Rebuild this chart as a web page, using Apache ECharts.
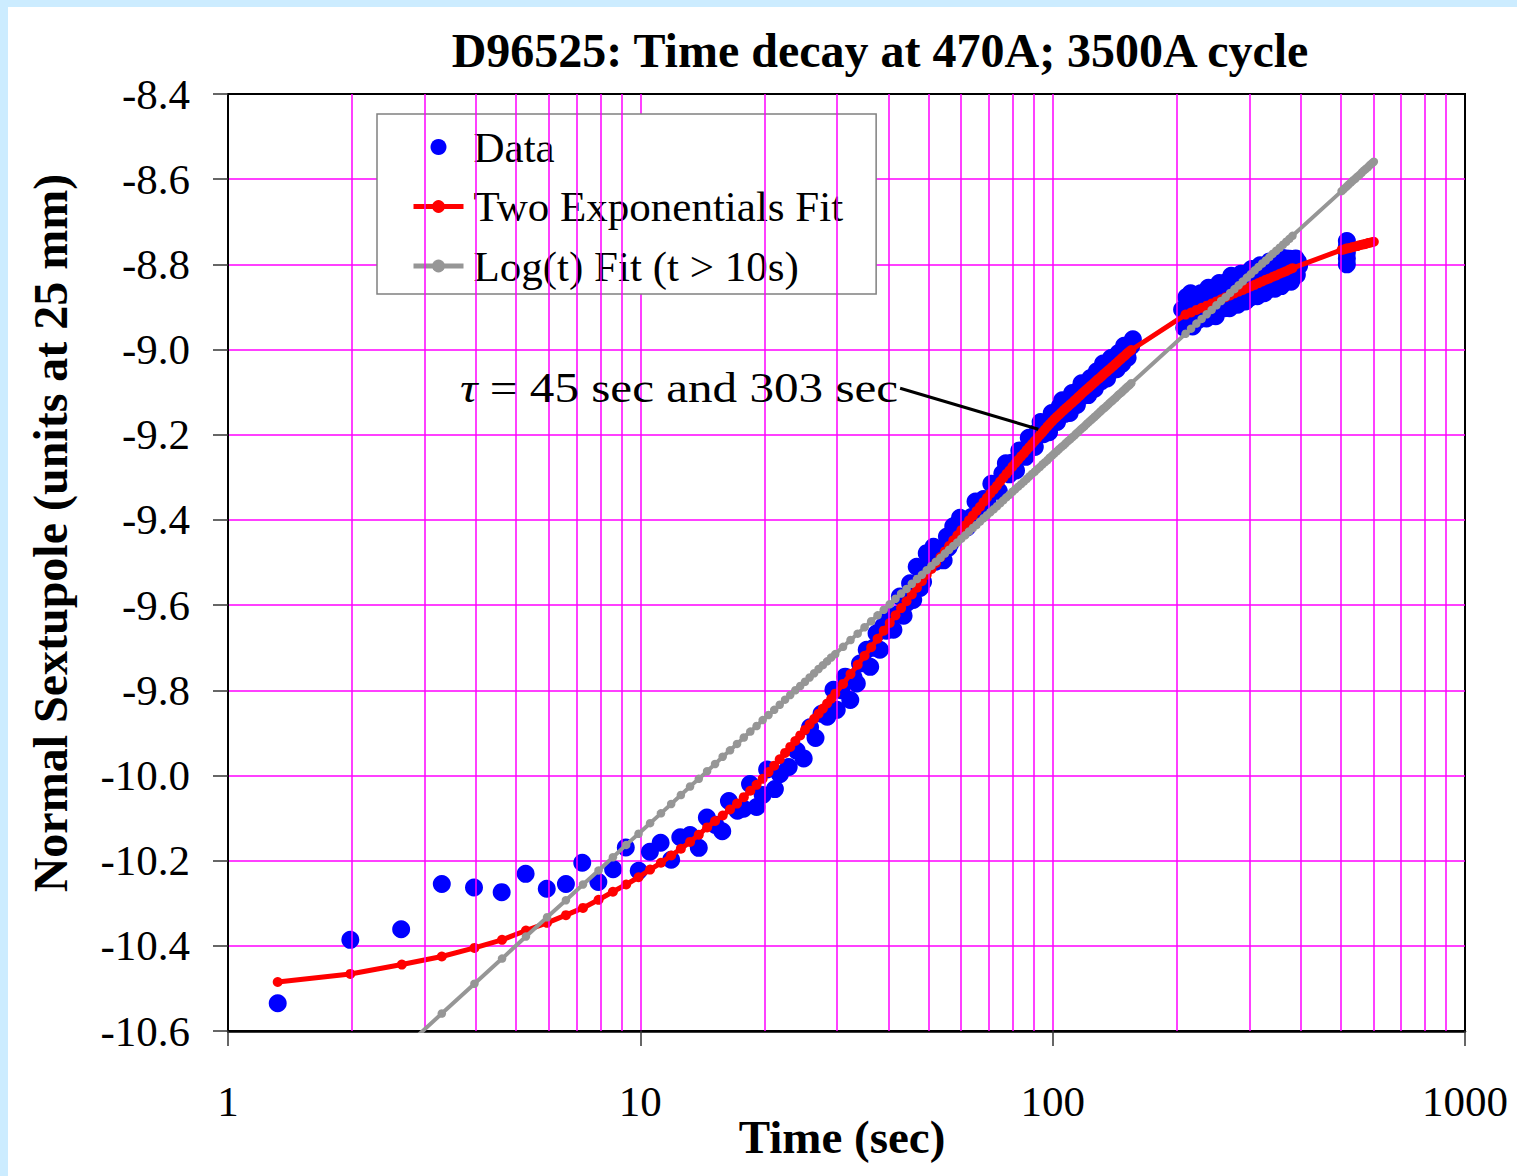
<!DOCTYPE html>
<html><head><meta charset="utf-8">
<script src="https://cdn.jsdelivr.net/npm/echarts@6/dist/echarts.min.js"></script>
<style>
html,body{margin:0;padding:0;background:#CCECFF;width:1517px;height:1176px;overflow:hidden}
#c{position:absolute;left:8px;top:7px;width:1509px;height:1169px;background:#fff}
</style></head><body><div id="c"></div>
<script>
// ---- text ----
const titleText = 'D96525: Time decay at 470A; 3500A cycle';
const xTitle = 'Time (sec)';
const yTitle = 'Normal Sextupole (units at 25 mm)';
const seriesNames = ['Data', 'Two Exponentials Fit', 'Log(t) Fit (t > 10s)'];
const noteText = '{i|τ} = 45 sec and 303 sec';

// ---- axes / ticks ----
const xTickLabels = [1, 10, 100, 1000];
const yTickLabels = [-8.4, -8.6, -8.8, -9.0, -9.2, -9.4, -9.6, -9.8, -10.0, -10.2, -10.4, -10.6];
const minorGridT = [2,3,4,5,6,7,8,9,20,30,40,50,60,70,80,90,200,300,400,500,600,700,800,900];

// ---- measured data (blue dots) ----
const dataT = [1.32,1.98,2.63,3.30,3.95,4.61,5.27,5.93,6.60,7.23,7.91,8.59,9.22,9.91,10.55,11.20,11.88,12.50,13.20,13.86,
14.50,15.20,15.80,16.40,17.20,17.80,18.45,19.14,19.80,20.30,21.20,21.80,22.90,23.95,24.90,25.80,26.60,27.50,28.40,29.40,29.95,
30.7,31.40,32.30,32.9,33.50,34.10,34.8,35.40,36.10,36.8,37.40,38.10,38.80,39.5,40.30,41.10,42.0,42.60,43.50,44.3,45.10,45.90,46.80,47.70,48.5,49.50,50.50,51.40,52.0,52.50,53.50,54.40,55.40,55.9,56.50,57.40,58.0,58.50,59.0,59.60,
60.5,62,63.5,65,66.5,68,69.5,71,72.5,74,75.5,77,78.5,80,81.5,83,84.5,86,87.5,89,90.5,92,93.5,95,96.5,98,99.5,
101,102.5,104,105.5,107,108.5,110,111.5,113,114.5,116,117.5,119,120.5,122,123.5,125,126.5,128,129.5,131,132.5,134,135.5,137,138.5,140,141.5,143,144.5,146,147.5,149,150.5,152,153.5,155,156.5,
206,208.5,211,213.5,216,218.5,221,223.5,226,228.5,231,233.5,236,238.5,241,243.5,246,248.5,251,253.5,256,258.5,261,263.5,266,268.5,271,273.5,276,278.5,
281,283.5,286,288.5,291,293.5,296,298.5,301,303.5,306,308.5,311,313.5,316,318.5,321,323.5,326,328.5,331,333.5,336,338.5,341,343.5,346,348.5,351,353.5,
356,358.5,361,363.5,366,368.5,371,373.5,376,378.5,381,383.5,386,388.5,391,393.5,396,
517,517,517,517,517];
const dataV = [-10.535,-10.386,-10.361,-10.255,-10.263,-10.274,-10.231,-10.266,-10.255,-10.205,-10.250,-10.220,-10.169,-10.224,-10.179,-10.158,-10.198,-10.145,-10.140,-10.170,
-10.099,-10.116,-10.131,-10.060,-10.083,-10.078,-10.020,-10.074,-10.046,-9.986,-10.032,-9.997,-9.980,-9.942,-9.960,-9.887,-9.912,-9.855,-9.862,-9.799,-9.846,
-9.800,-9.768,-9.823,-9.770,-9.784,-9.737,-9.735,-9.705,-9.745,-9.700,-9.666,-9.705,-9.650,-9.660,-9.627,-9.658,-9.622,-9.580,-9.625,-9.595,-9.549,-9.588,-9.510,-9.560,-9.545,-9.478,-9.500,-9.463,-9.498,-9.490,-9.470,-9.495,-9.439,-9.465,-9.455,-9.415,-9.440,-9.430,-9.415,-9.395,
-9.403,-9.418,-9.393,-9.357,-9.385,-9.351,-9.354,-9.315,-9.323,-9.332,-9.291,-9.267,-9.293,-9.265,-9.284,-9.237,-9.246,-9.252,-9.207,-9.217,-9.229,-9.192,-9.170,-9.199,-9.177,-9.194,-9.149,
-9.164,-9.170,-9.134,-9.119,-9.151,-9.126,-9.149,-9.102,-9.117,-9.130,-9.094,-9.079,-9.108,-9.088,-9.107,-9.067,-9.080,-9.092,-9.051,-9.057,-9.075,-9.033,-9.052,-9.068,-9.032,-9.020,-9.048,-9.030,-9.046,-9.008,-9.012,-9.033,-8.991,-9.011,-9.019,-8.988,-8.992,-8.976,
-8.906,-8.949,-8.877,-8.925,-8.868,-8.946,-8.889,-8.902,-8.930,-8.868,-8.916,-8.874,-8.927,-8.855,-8.883,-8.911,-8.859,-8.922,-8.871,-8.844,-8.892,-8.855,-8.903,-8.842,-8.875,-8.903,-8.827,-8.860,-8.888,-8.837,
-8.895,-8.843,-8.822,-8.875,-8.849,-8.887,-8.821,-8.849,-8.878,-8.811,-8.835,-8.868,-8.817,-8.875,-8.824,-8.802,-8.851,-8.814,-8.868,-8.802,-8.830,-8.859,-8.793,-8.816,-8.845,-8.799,-8.857,-8.806,-8.785,-8.833,
-8.797,-8.851,-8.785,-8.813,-8.842,-8.786,-8.799,-8.833,-8.787,-8.841,-8.794,-8.788,-8.822,-8.786,-8.825,-8.794,-8.803,
-8.745,-8.758,-8.772,-8.786,-8.800];

// ---- fit curves (red: two exponentials, gray: log(t) fit) ----
const fitT = [1.32,1.98,2.64,3.30,3.96,4.62,5.28,5.94,6.60,7.26,7.92,8.58,9.24,9.90,10.56,11.22,11.88,12.54,13.20,13.86,14.52,15.18,15.84,16.50,17.16,17.82,18.48,19.14,19.80,20.46,21.12,21.78,22.44,23.10,23.76,24.42,25.08,25.74,26.40,27.06,27.72,28.38,29.04,29.70,
31.02,32.34,33.66,34.98,36.30,37.62,38.94,40.26,41.58,42.90,44.22,45.54,46.86,48.18,49.50,50.82,52.14,53.46,54.78,56.10,57.42,58.74,60.06,
61.38,62.70,64.02,65.34,66.66,67.98,69.30,70.62,71.94,73.26,74.58,75.90,77.22,78.54,79.86,81.18,82.50,83.82,85.14,86.46,87.78,89.10,90.42,91.74,93.06,94.38,95.70,97.02,98.34,99.66,
100.98,102.30,103.62,104.94,106.26,107.58,108.90,110.22,111.54,112.86,114.18,115.50,116.82,118.14,119.46,120.78,122.10,123.42,124.74,126.06,127.38,128.70,130.02,131.34,132.66,133.98,135.30,136.62,137.94,139.26,140.58,141.90,143.22,144.54,145.86,147.18,148.50,149.82,151.14,152.46,153.78,155.10,
210.0,216.6,223.2,229.8,236.4,243.0,249.6,256.2,262.8,269.4,276.0,282.6,289.2,295.8,302.4,309.0,315.6,322.2,328.8,335.4,342.0,348.6,355.2,361.8,368.4,375.0,381.6,
502.0,508.6,515.2,521.8,528.4,535.0,541.6,548.2,554.8,561.4,568.0,574.6,581.2,587.8,594.4,601.0];
const redV = [-10.485,-10.466,-10.444,-10.425,-10.405,-10.386,-10.364,-10.346,-10.328,-10.311,-10.292,-10.273,-10.256,-10.239,-10.221,-10.205,-10.188,-10.172,-10.156,-10.139,-10.122,-10.107,-10.094,-10.080,-10.066,-10.051,-10.036,-10.022,-10.008,-9.992,-9.977,-9.962,-9.947,-9.933,-9.919,-9.906,-9.893,-9.880,-9.867,-9.855,-9.843,-9.831,-9.820,-9.808,
-9.785,-9.762,-9.740,-9.719,-9.699,-9.679,-9.660,-9.642,-9.624,-9.607,-9.591,-9.575,-9.559,-9.544,-9.529,-9.515,-9.501,-9.487,-9.474,-9.461,-9.448,-9.436,-9.424,
-9.413,-9.401,-9.390,-9.379,-9.369,-9.358,-9.348,-9.338,-9.329,-9.320,-9.310,-9.301,-9.292,-9.284,-9.275,-9.267,-9.259,-9.251,-9.244,-9.236,-9.229,-9.222,-9.215,-9.208,-9.201,-9.195,-9.188,-9.181,-9.175,-9.169,
-9.163,-9.158,-9.153,-9.148,-9.143,-9.138,-9.134,-9.129,-9.125,-9.120,-9.116,-9.111,-9.107,-9.102,-9.098,-9.094,-9.090,-9.086,-9.082,-9.078,-9.074,-9.070,-9.067,-9.063,-9.059,-9.055,-9.052,-9.048,-9.045,-9.041,-9.038,-9.034,-9.031,-9.027,-9.024,-9.020,-9.017,-9.014,-9.010,-9.007,-9.004,-9.001,
-8.918,-8.913,-8.907,-8.902,-8.897,-8.892,-8.887,-8.882,-8.877,-8.873,-8.868,-8.864,-8.860,-8.856,-8.852,-8.848,-8.844,-8.840,-8.836,-8.833,-8.829,-8.826,-8.822,-8.819,-8.816,-8.812,-8.809,
-8.766,-8.765,-8.763,-8.762,-8.761,-8.759,-8.758,-8.757,-8.755,-8.754,-8.753,-8.752,-8.750,-8.749,-8.748,-8.747];
const grayV = ['-','-',-10.645,-10.559,-10.489,-10.430,-10.378,-10.333,-10.293,-10.256,-10.223,-10.192,-10.163,-10.137,-10.112,-10.089,-10.067,-10.046,-10.026,-10.008,-9.990,-9.973,-9.956,-9.941,-9.926,-9.911,-9.897,-9.884,-9.870,-9.858,-9.846,-9.834,-9.822,-9.811,-9.800,-9.790,-9.780,-9.770,-9.760,-9.750,-9.741,-9.732,-9.723,-9.715,
-9.698,-9.682,-9.667,-9.652,-9.638,-9.624,-9.611,-9.598,-9.585,-9.573,-9.562,-9.550,-9.539,-9.529,-9.518,-9.508,-9.498,-9.489,-9.479,-9.470,-9.461,-9.453,-9.444,
-9.436,-9.427,-9.419,-9.412,-9.404,-9.396,-9.389,-9.382,-9.375,-9.368,-9.361,-9.354,-9.347,-9.341,-9.334,-9.328,-9.322,-9.316,-9.310,-9.304,-9.298,-9.292,-9.287,-9.281,-9.276,-9.270,-9.265,-9.260,-9.254,-9.249,
-9.244,-9.239,-9.234,-9.229,-9.225,-9.220,-9.215,-9.211,-9.206,-9.202,-9.197,-9.193,-9.188,-9.184,-9.180,-9.175,-9.171,-9.167,-9.163,-9.159,-9.155,-9.151,-9.147,-9.143,-9.139,-9.136,-9.132,-9.128,-9.124,-9.121,-9.117,-9.114,-9.110,-9.106,-9.103,-9.100,-9.096,-9.093,-9.089,-9.086,-9.083,-9.079,
-8.963,-8.951,-8.939,-8.928,-8.917,-8.907,-8.896,-8.886,-8.877,-8.867,-8.858,-8.849,-8.840,-8.831,-8.823,-8.814,-8.806,-8.798,-8.791,-8.783,-8.775,-8.768,-8.761,-8.754,-8.747,-8.740,-8.733,
-8.628,-8.623,-8.618,-8.613,-8.608,-8.603,-8.599,-8.594,-8.590,-8.585,-8.580,-8.576,-8.572,-8.567,-8.563,-8.559];

// annotation pointer end points (data coords)
const pointerFrom = [42.66, -9.091];
const pointerTo = [92.3, -9.187];

const FONT = '"Liberation Serif", "Times New Roman", serif';
const chart = echarts.init(document.getElementById('c'), null, {renderer: 'svg'});

const option = {
  animation: false,
  backgroundColor: '#ffffff',
  grid: {left: 220, top: 87, right: 52, bottom: 145, show: true, borderColor: '#000', borderWidth: 2, backgroundColor: 'transparent'},
  legend: {
    data: seriesNames, orient: 'vertical', left: 369, top: 107,
    padding: [11, 33, 6, 34], itemGap: 15.5, itemWidth: 50, itemHeight: 16,
    backgroundColor: '#fff', borderColor: '#808080', borderWidth: 1.5, selectedMode: false,
    lineStyle: {width: 5},
    textStyle: {fontFamily: FONT, fontSize: 43, color: '#000', lineHeight: 44, padding: [0, 0, 0, 5]}
  },
  xAxis: {
    type: 'log', logBase: 10, min: 1, max: 1000,
    axisLine: {show: true, onZero: false, lineStyle: {color: '#000', width: 2.5}},
    axisTick: {show: true, length: 15, lineStyle: {color: '#333', width: 1.5}},
    axisLabel: {fontFamily: FONT, fontSize: 43, color: '#000', margin: 49,
      formatter: v => { const m = xTickLabels.find(k => Math.abs(k - v) / k < 1e-6); return m === undefined ? '' : String(m); }},
    splitLine: {show: true, showMinLine: false, showMaxLine: false, lineStyle: {color: '#FF00FF', width: 1.5}},
    minorTick: {show: false}
  },
  yAxis: {
    type: 'value', min: -10.6, max: -8.4, interval: 0.2,
    axisLine: {show: true, onZero: false, lineStyle: {color: '#000', width: 2}},
    axisTick: {show: true, length: 15, lineStyle: {color: '#333', width: 1.5}},
    axisLabel: {fontFamily: FONT, fontSize: 43, color: '#000', margin: 38,
      formatter: v => { const m = yTickLabels.find(k => Math.abs(k - v) < 1e-6); return m === undefined ? '' : m.toFixed(1); }},
    splitLine: {show: true, showMinLine: false, showMaxLine: false, lineStyle: {color: '#FF00FF', width: 1.5}}
  },
  series: [
    {
      name: 'minorGrid', type: 'scatter', data: [], z: 1, silent: true,
      markLine: {silent: true, symbol: ['none', 'none'], label: {show: false}, animation: false,
        lineStyle: {color: '#FF00FF', width: 1.5, type: 'solid'},
        emphasis: {disabled: true},
        data: minorGridT.map(v => ({xAxis: v}))}
    },
    {
      name: seriesNames[0], type: 'scatter', z: 3, symbol: 'circle', symbolSize: 18,
      itemStyle: {color: '#0000FF', opacity: 1},
      data: dataT.map((t, i) => [t, dataV[i]])
    },
    {
      name: seriesNames[1], type: 'line', z: 4, symbol: 'circle', symbolSize: 10, showSymbol: true,
      itemStyle: {color: '#FF0000'}, lineStyle: {color: '#FF0000', width: 5},
      data: fitT.map((t, i) => [t, redV[i]])
    },
    {
      name: seriesNames[2], type: 'line', z: 5, symbol: 'circle', symbolSize: 8.5, showSymbol: true,
      itemStyle: {color: '#969696'}, lineStyle: {color: '#969696', width: 4},
      data: fitT.map((t, i) => [t, grayV[i]]),
      markLine: {silent: true, symbol: ['none', 'none'], label: {show: false}, animation: false,
        lineStyle: {color: '#000', width: 3, type: 'solid'}, emphasis: {disabled: true},
        data: [[{coord: pointerFrom}, {coord: pointerTo}]]}
    }
  ],
  graphic: [
    {type: 'text', x: 872, y: 43, z: 100, style: {text: titleText, fontFamily: FONT, fontSize: 48, fontWeight: 'bold', fill: '#000', align: 'center', verticalAlign: 'middle', textAlign: 'center', textVerticalAlign: 'middle'}},
    {type: 'text', x: 834, y: 1130, z: 100, style: {text: xTitle, fontFamily: FONT, fontSize: 47, fontWeight: 'bold', fill: '#000', align: 'center', verticalAlign: 'middle', textAlign: 'center', textVerticalAlign: 'middle'}},
    {type: 'text', x: 42, y: 526, rotation: Math.PI / 2, z: 100, style: {text: yTitle, fontFamily: FONT, fontSize: 48, fontWeight: 'bold', fill: '#000', align: 'center', verticalAlign: 'middle', textAlign: 'center', textVerticalAlign: 'middle'}},
    {type: 'text', x: 452, y: 381, scaleX: 1.17, z: 100, style: {text: noteText, fontFamily: FONT, fontSize: 42, fill: '#000', align: 'left', verticalAlign: 'middle', textAlign: 'left', textVerticalAlign: 'middle',
      rich: {i: {fontStyle: 'italic', fontFamily: FONT, fontSize: 42, fill: '#000'}}}}
  ]
};
chart.setOption(option);
</script></body></html>
